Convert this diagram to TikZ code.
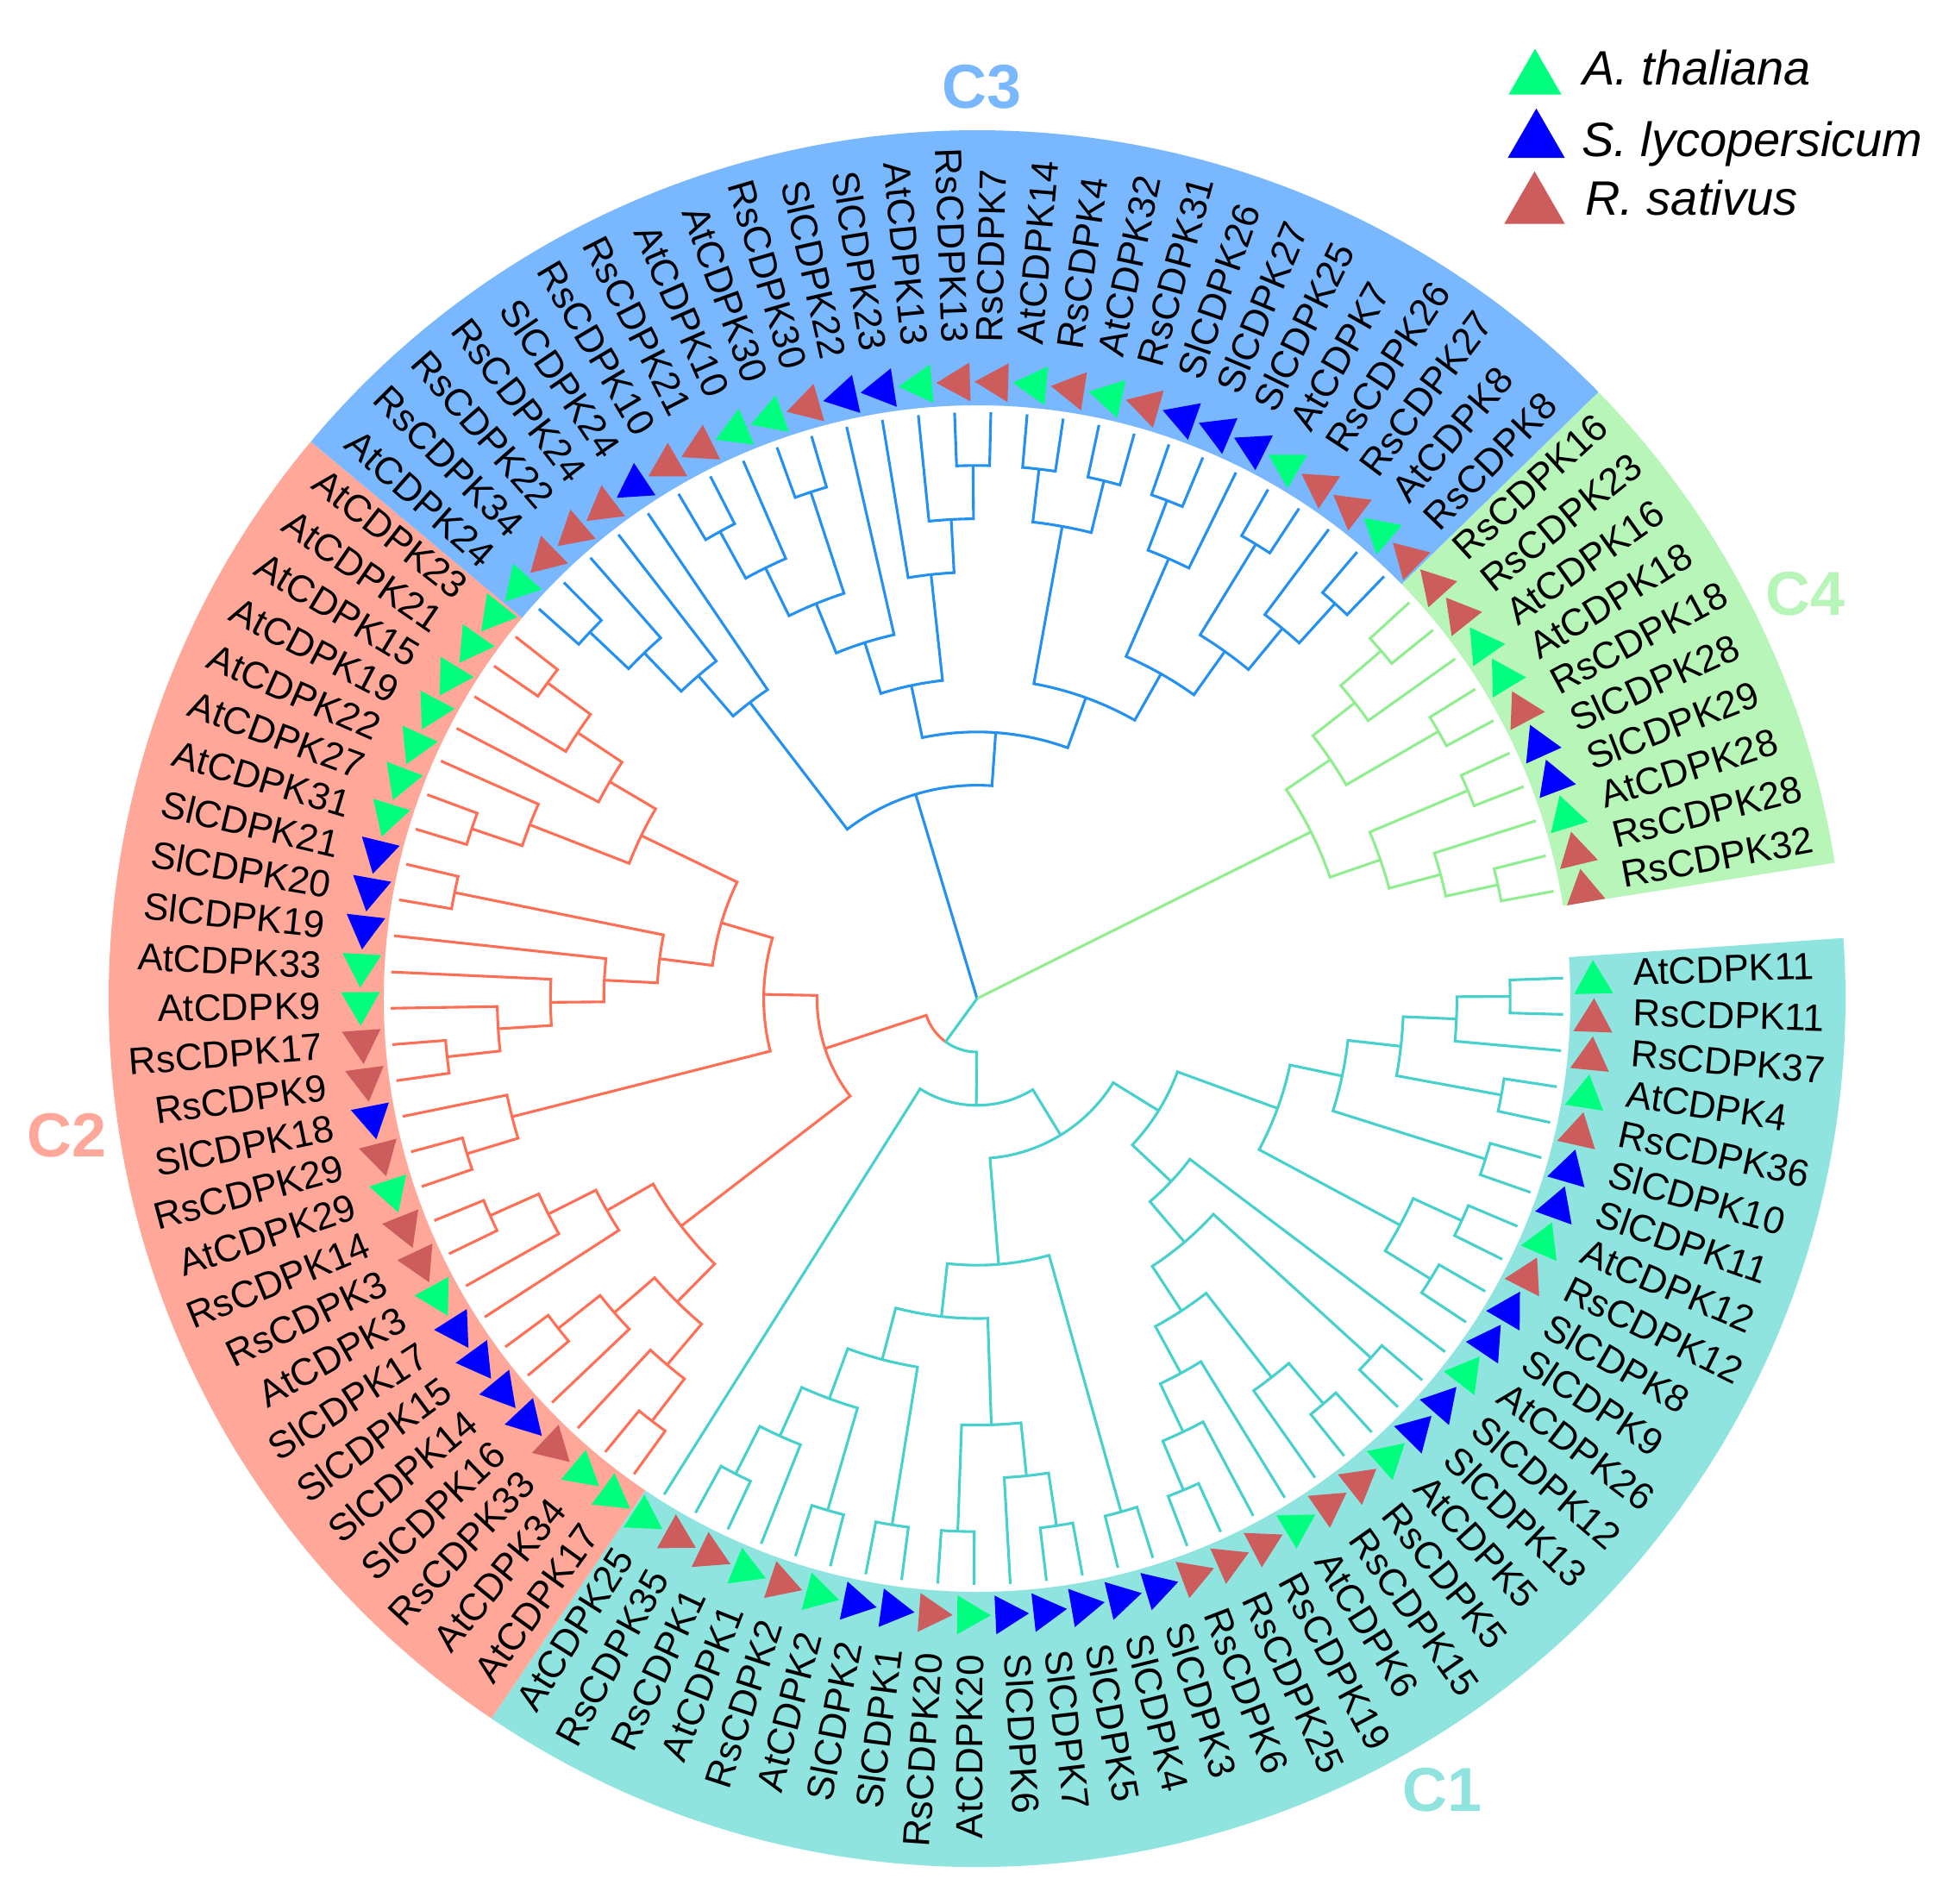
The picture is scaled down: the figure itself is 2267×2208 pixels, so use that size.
\documentclass[tikz,border=0pt]{standalone}
\usepackage{fontspec}
\setmainfont{Liberation Sans}
\usetikzlibrary{shapes.geometric}
\definecolor{colAt}{HTML}{00FF7F}
\definecolor{colSl}{HTML}{0000FF}
\definecolor{colRs}{HTML}{CD5C5C}
\definecolor{bandA}{HTML}{90E4E0}
\definecolor{bandB}{HTML}{FFA899}
\definecolor{bandC}{HTML}{79B8FF}
\definecolor{bandD}{HTML}{B8F5B8}
\definecolor{treeA}{HTML}{48D1CC}
\definecolor{treeB}{HTML}{FF6F55}
\definecolor{treeC}{HTML}{2490F0}
\definecolor{treeD}{HTML}{90EE90}
\tikzset{
  tree/.style={line width=1.55pt,line join=miter},
  tri/.style={regular polygon,regular polygon sides=3,minimum size=26pt,inner sep=0pt,draw=none},
  legtri/.style={regular polygon,regular polygon sides=3,inner sep=0pt,draw=none},
  lab/.style={inner sep=0pt,font=\fontsize{22}{24}\selectfont},
  legtxt/.style={inner sep=0pt,anchor=base west,font=\fontsize{28}{32}\selectfont\itshape},
  clu/.style={inner sep=0pt,font=\fontsize{36}{40}\selectfont\bfseries}
}
\newcommand\cstore[4]{%
  \expandafter\xdef\csname ang#1\endcsname{#2}%
  \expandafter\xdef\csname hgt#1\endcsname{#3}%
  \expandafter\xdef\csname rad#1\endcsname{#4}}
\newcommand\cprep[2]{%
  \pgfmathsetmacro\aA{\csname ang#1\endcsname}%
  \pgfmathsetmacro\aB{\csname ang#2\endcsname}%
  \pgfmathsetmacro\hh{1+max(\csname hgt#1\endcsname,\csname hgt#2\endcsname)}%
  \pgfmathsetmacro\rr{680-61.8*\hh}%
  \pgfmathsetmacro\aM{(\aA+\aB)/2}}
\newcommand\cl[3]{%
  \cprep{#2}{#3}%
  \draw[tree,\tcol] (#2) -- (\aA:\rr) arc[start angle=\aA,end angle=\aB,radius=\rr] -- (#3);
  \coordinate (#1) at (\aM:\rr);
  \cstore{#1}{\aM}{\hh}{\rr}}
\newcommand\clX[5]{%
  \cprep{#2}{#4}%
  \draw[tree,#3] (#2) -- (\aA:\rr) arc[start angle=\aA,end angle=\aM,radius=\rr];
  \draw[tree,#5] (#4) -- (\aB:\rr) arc[start angle=\aB,end angle=\aM,radius=\rr];
  \coordinate (#1) at (\aM:\rr);
  \cstore{#1}{\aM}{\hh}{\rr}}
\newcommand\sector[3]{%
  \fill[#3] (#1:688) arc[start angle=#1,end angle=#2,radius=688] -- (#2:1007) arc[start angle=#2,end angle=#1,radius=1007] -- cycle;}
\begin{document}
\begin{tikzpicture}[x=0.5pt,y=0.5pt]
\useasboundingbox (-1133,-1050) rectangle (1134,1158);
\sector{4}{-124}{bandA}
\sector{-124}{-219.9}{bandB}
\sector{140.1}{44.3}{bandC}
\sector{44.3}{9}{bandD}
\coordinate (O) at (0,0);
\foreach \i/\pre/\num in {0/At/11,1/Rs/11,2/Rs/37,3/At/4,4/Rs/36,5/Sl/10,6/Sl/11,7/At/12,8/Rs/12,9/Sl/8,10/Sl/9,11/At/26,12/Sl/12,13/Sl/13,14/At/5,15/Rs/5,16/Rs/15,17/At/6,18/Rs/19,19/Rs/25,20/Rs/6,21/Sl/3,22/Sl/4,23/Sl/5,24/Sl/7,25/Sl/6,26/At/20,27/Rs/20,28/Sl/1,29/Sl/2,30/At/2,31/Rs/2,32/At/1,33/Rs/1,34/Rs/35,35/At/25,
36/At/17,37/At/34,38/Rs/33,39/Sl/16,40/Sl/14,41/Sl/15,42/Sl/17,43/At/3,44/Rs/3,45/Rs/14,46/At/29,47/Rs/29,48/Sl/18,49/Rs/9,50/Rs/17,51/At/9,52/At/33,53/Sl/19,54/Sl/20,55/Sl/21,56/At/31,57/At/27,58/At/22,59/At/19,60/At/15,61/At/21,62/At/23,
63/At/24,64/Rs/34,65/Rs/22,66/Rs/24,67/Sl/24,68/Rs/10,69/Rs/21,70/At/10,71/At/30,72/Rs/30,73/Sl/22,74/Sl/23,75/At/13,76/Rs/13,77/Rs/7,78/At/14,79/Rs/4,80/At/32,81/Rs/31,82/Sl/26,83/Sl/27,84/Sl/25,85/At/7,86/Rs/26,87/Rs/27,88/At/8,89/Rs/8,
90/Rs/16,91/Rs/23,92/At/16,93/At/18,94/Rs/18,95/Sl/28,96/Sl/29,97/At/28,98/Rs/28,99/Rs/32}{
  \pgfmathsetmacro\th{2-3.55*\i}
  \pgfmathsetmacro\thT{\th-0.5}
  \pgfmathsetmacro\cs{cos(\th)}
  \coordinate (n\i) at (\th:680);
  \cstore{n\i}{\th}{0}{680}
  \node[tri,fill=col\pre,rotate=\thT] (t\i) at (\thT:715) {};
  \ifdim\cs pt>0pt
    \pgfmathsetmacro\xx{761*cos(\th)+4*cos(\th+90)}
    \pgfmathsetmacro\yy{761*sin(\th)+4*sin(\th+90)}
    \node[lab,anchor=west,rotate=\th] (l\i) at (\xx,\yy) {\pre{}CDPK\num};
  \else
    \pgfmathsetmacro\xx{761*cos(\th)+4*cos(\th+270)}
    \pgfmathsetmacro\yy{761*sin(\th)+4*sin(\th+270)}
    \node[lab,anchor=east,rotate=\th+180] (l\i) at (\xx,\yy) {\pre{}CDPK\num};
  \fi
}
% C4
\def\tcol{treeD}
\cl{d1}{n90}{n91}\cl{d2}{d1}{n92}\cl{d3}{n93}{n94}\cl{d4}{d2}{d3}
\cl{d5}{n95}{n96}\cl{d6}{n98}{n99}\cl{d7}{n97}{d6}\cl{d8}{d5}{d7}\cl{d9}{d4}{d8}
% C3
\def\tcol{treeC}
\cl{c1}{n63}{n64}\cl{c2}{c1}{n65}\cl{c3}{c2}{n66}\cl{c4}{c3}{n67}
\cl{c5}{n68}{n69}\cl{c6}{c5}{n70}\cl{c7}{n71}{n72}\cl{c8}{c6}{c7}\cl{c9}{c8}{n73}
\cl{c10}{n76}{n77}\cl{c11}{n75}{c10}\cl{c12}{n74}{c11}\cl{c13}{c9}{c12}
\cl{c14}{n78}{n79}\cl{c15}{n80}{n81}\cl{c16}{c14}{c15}
\cl{c17}{n82}{n83}\cl{c18}{c17}{n84}
\cl{c19}{n85}{n86}\cl{c20}{n88}{n89}\cl{c21}{n87}{c20}\cl{c22}{c19}{c21}
\cl{c23}{c18}{c22}\cl{c24}{c16}{c23}\cl{c25}{c13}{c24}\cl{c26}{c4}{c25}
% C2
\def\tcol{treeB}
\cl{b1}{n36}{n37}\cl{b2}{n38}{b1}\cl{b3}{n40}{n41}\cl{b4}{n39}{b3}\cl{b5}{b4}{b2}
\cl{b6}{n44}{n45}\cl{b7}{n43}{b6}\cl{b8}{n42}{b7}\cl{b9}{b5}{b8}
\cl{b10}{n46}{n47}\cl{b11}{b10}{n48}
\cl{b12}{n49}{n50}\cl{b13}{b12}{n51}\cl{b14}{b13}{n52}\cl{b15}{b14}{n53}
\cl{b16}{n54}{n55}\cl{b17}{b15}{b16}
\cl{b18}{n56}{n57}\cl{b19}{b18}{n58}\cl{b20}{n61}{n62}\cl{b21}{b20}{n60}\cl{b22}{n59}{b21}
\cl{b23}{b19}{b22}\cl{b24}{b17}{b23}\cl{b25}{b11}{b24}\cl{b26}{b9}{b25}
% C1
\def\tcol{treeA}
\cl{a1}{n0}{n1}\cl{a2}{a1}{n2}\cl{a3}{n3}{n4}\cl{a4}{a2}{a3}\cl{a5}{n5}{n6}\cl{a6}{a4}{a5}
\cl{a7}{n7}{n8}\cl{a8}{n9}{n10}\cl{a9}{a7}{a8}\cl{a10}{a6}{a9}
\cl{a11}{n14}{n15}\cl{a12}{a11}{n16}\cl{a13}{n19}{n20}\cl{a14}{n18}{a13}\cl{a15}{n17}{a14}
\cl{a16}{a12}{a15}\cl{a17}{n12}{n13}\cl{a18}{a17}{a16}\cl{a19}{n11}{a18}\cl{a20}{a10}{a19}
\cl{a21}{n21}{n22}\cl{a22}{n23}{n24}\cl{a23}{a22}{n25}\cl{a24}{n26}{n27}\cl{a25}{a23}{a24}
\cl{a26}{n28}{n29}\cl{a27}{n30}{n31}\cl{a29}{n33}{n34}\cl{a28}{n32}{a29}\cl{a30}{a28}{a27}
\cl{a31}{a30}{a26}\cl{a32}{a31}{a25}\cl{a33}{a32}{a21}\cl{a34}{a20}{a33}\cl{a35}{a34}{n35}
% joint stem of C1 and C2
\clX{e1}{a35}{treeA}{b26}{treeB}
% root
\draw[tree,treeC] (O) -- (c26);
\draw[tree,treeD] (O) -- (d9);
\draw[tree,treeA] (O) -- (e1);
% cluster names
\node[clu,text=bandC] (nC3) at (6,1057) {C3};
\node[clu,text=bandD] (nC4) at (961,469) {C4};
\node[clu,text=bandB] (nC2) at (-1055,-159) {C2};
\node[clu,text=bandA] (nC1) at (540,-918) {C1};
% legend
\node[legtri,minimum size=35.3pt,fill=colAt] (k1) at (647,1066) {};
\node[legtri,minimum size=38.2pt,fill=colSl] (k2) at (648.5,994) {};
\node[legtri,minimum size=40.6pt,fill=colRs] (k3) at (646.5,918.7) {};
\node[legtxt] (m1) at (702,1059) {A. thaliana};
\node[legtxt] (m2) at (701,976) {S. lycopersicum};
\node[legtxt] (m3) at (705,908.7) {R. sativus};
\end{tikzpicture}
\end{document}
